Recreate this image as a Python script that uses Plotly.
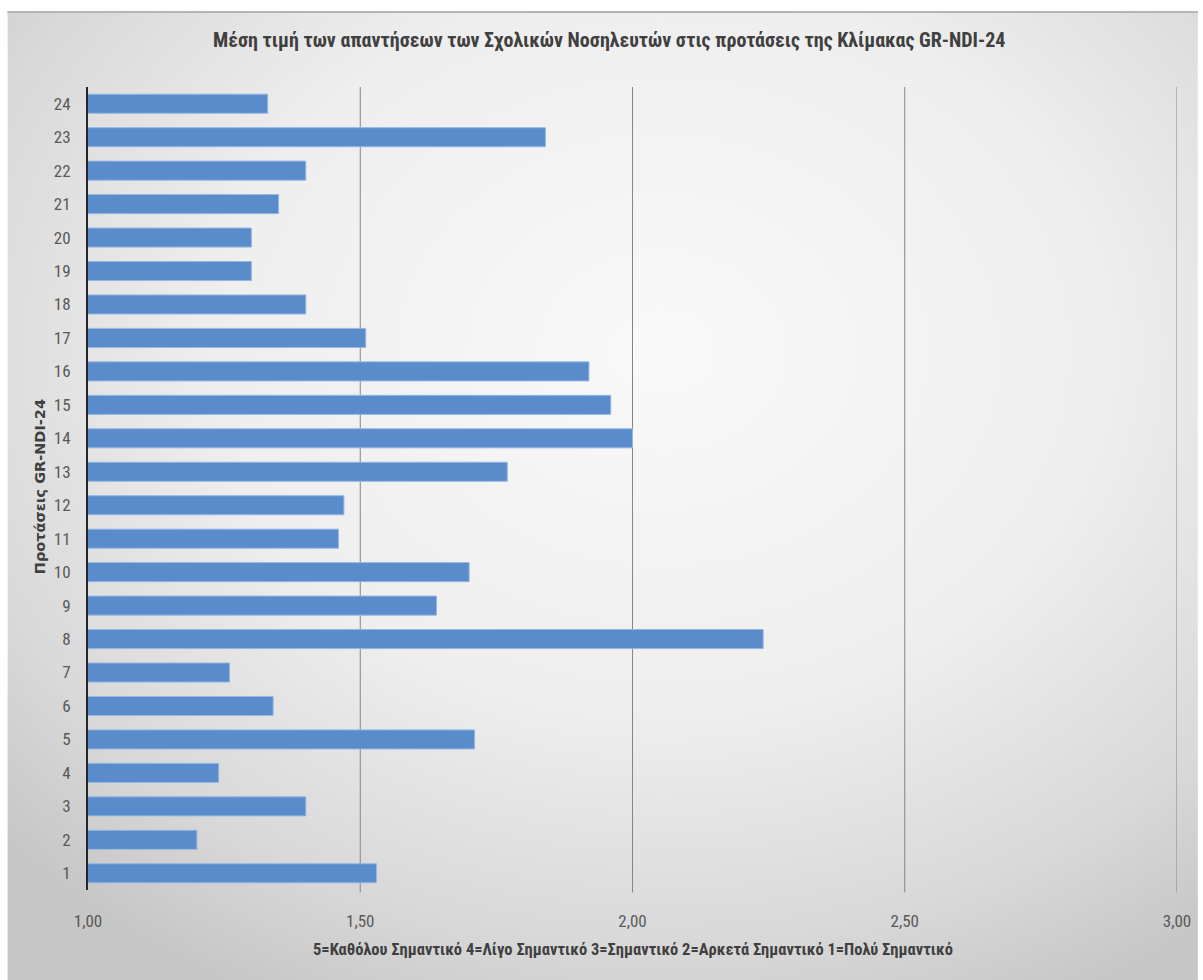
import base64
import plotly.graph_objects as go

# ---- data ----
items = list(range(1, 25))
means = [1.53, 1.20, 1.40, 1.24, 1.71, 1.34, 1.26, 2.24, 1.64, 1.70, 1.46, 1.47,
         1.77, 2.00, 1.96, 1.92, 1.51, 1.40, 1.30, 1.30, 1.35, 1.40, 1.84, 1.33]
x_ticks = [1.0, 1.5, 2.0, 2.5, 3.0]
title_text = "Μέση τιμή των απαντήσεων των Σχολικών Νοσηλευτών στις προτάσεις της Κλίμακας GR-NDI-24"
x_title = "5=Καθόλου Σημαντικό 4=Λίγο Σημαντικό 3=Σημαντικό 2=Αρκετά Σημαντικό 1=Πολύ Σημαντικό"
y_title = "Προτάσεις GR-NDI-24"

W, H = 1203, 980
L, R, T, B = 88, 21, 87, 90
pw, ph = W - L - R, H - T - B

def px_x(p):
    return (p - L) / pw

def px_y(p):
    return (H - B - p) / ph

narrow = "Liberation Sans Narrow, Roboto Condensed, DejaVu Sans Condensed, Arial Narrow, sans-serif"

svg = (
    '<svg xmlns="http://www.w3.org/2000/svg" width="1196" height="968" viewBox="0 0 100 100" preserveAspectRatio="none">'
    '<defs><radialGradient id="g" cx="0.55" cy="0.35" r="0.75">'
    '<stop offset="0" stop-color="#f9f9f9"/>'
    '<stop offset="0.5" stop-color="#eeeeee"/>'
    '<stop offset="0.82" stop-color="#d8d8d8"/>'
    '<stop offset="1" stop-color="#c6c6c6"/>'
    '</radialGradient></defs>'
    '<rect x="0" y="0" width="100" height="100" fill="url(#g)"/></svg>'
)
src = "data:image/svg+xml;base64," + base64.b64encode(svg.encode()).decode()

fig = go.Figure()
fig.add_trace(go.Bar(
    x=means, y=items, orientation="h",
    marker=dict(color="#5a8bca", line=dict(color="#94b8e4", width=1)),
    width=0.57,
    hoverinfo="x+y",
))

grid_shapes = [dict(type="line", xref="x", yref="paper", x0=v, x1=v, y0=-0.003, y1=1,
                    line=dict(color="#858585", width=1), layer="below")
               for v in x_ticks[1:]]

fig.update_layout(
    width=W, height=H,
    margin=dict(l=L, r=R, t=T, b=B, pad=0),
    paper_bgcolor="white",
    plot_bgcolor="rgba(0,0,0,0)",
    separators=",.",
    showlegend=False,
    images=[dict(source=src, xref="paper", yref="paper",
                 x=px_x(7), y=px_y(12), sizex=(W - 7) / pw, sizey=(H - 12) / ph,
                 xanchor="left", yanchor="top", sizing="stretch", layer="below")],
    shapes=[dict(type="line", xref="paper", yref="paper",
                 x0=px_x(7), x1=px_x(W), y0=px_y(12), y1=px_y(12),
                 line=dict(color="#b4b4b4", width=2))] + grid_shapes,
    xaxis=dict(
        range=[1, 3], tickvals=x_ticks, tickformat=".2f",
        showgrid=False,
        zeroline=False, showline=False, ticks="",
        tickfont=dict(family=narrow, size=17, color="#595959"),
        ticklabelstandoff=19,
    ),
    yaxis=dict(
        range=[0.5, 24.5], tickvals=items,
        showgrid=False, zeroline=False,
        showline=True, linecolor="#262626", linewidth=2,
        ticks="",
        tickfont=dict(family=narrow, size=17, color="#595959"),
        ticklabelstandoff=12,
    ),
    annotations=[
        dict(text=title_text, xref="paper", yref="paper", x=px_x(611), y=px_y(40),
             xanchor="center", yanchor="middle", showarrow=False,
             font=dict(family=narrow, size=20, color="#404040", weight="bold")),
        dict(text=x_title, xref="paper", yref="paper", x=px_x(636), y=px_y(949),
             xanchor="center", yanchor="middle", showarrow=False,
             font=dict(family=narrow, size=16.5, color="#404040", weight="bold")),
        dict(text=y_title, xref="paper", yref="paper", x=px_x(40), y=px_y(487),
             xanchor="center", yanchor="middle", showarrow=False, textangle=-90,
             font=dict(family="DejaVu Sans, Verdana, sans-serif", size=14.5, color="#404040", weight="bold")),
    ],
)

fig.write_html("out.html")
